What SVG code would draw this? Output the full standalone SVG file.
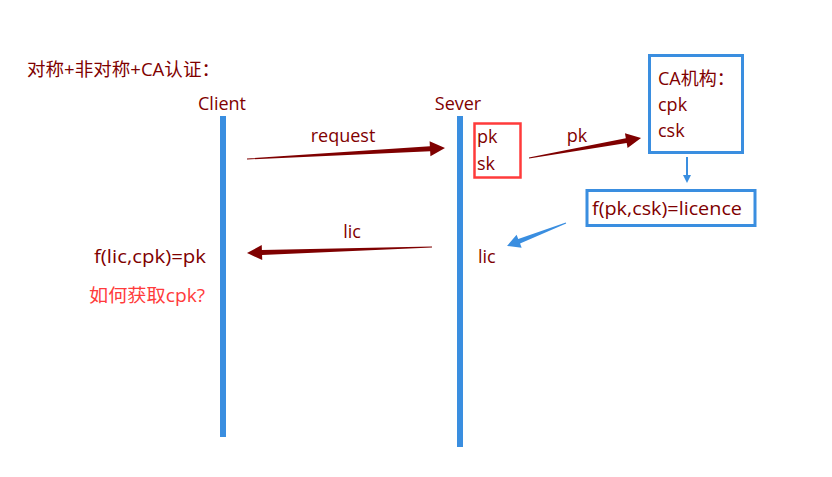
<svg xmlns="http://www.w3.org/2000/svg" width="832" height="477" viewBox="0 0 832 477">
<style>
text{font-family:"Open Sans","Noto Sans CJK SC",sans-serif;font-size:18px;fill:#7f0000}
.red{fill:#ff3b3b}
.life{fill:#3a8ee0}
.arr{fill:#7f0000}
.barr{fill:#3a8ee0}
.box{fill:none;stroke:#3a8ee0;stroke-width:3}
.rbox{fill:none;stroke:#ff3b3b;stroke-width:2.5}
</style>
<rect width="832" height="477" fill="#fff"/>
<text x="27" y="76" textLength="193" lengthAdjust="spacingAndGlyphs">对称+非对称+CA认证：</text>
<g id="client">
<text x="222" y="110" text-anchor="middle">Client</text>
<rect class="life" x="220" y="116" width="6" height="321"/>
</g>
<g id="sever">
<text x="458" y="110" text-anchor="middle">Sever</text>
<rect class="life" x="457" y="116" width="6" height="331"/>
</g>
<g id="keys">
<rect class="rbox" x="474.5" y="123.5" width="46" height="54"/>
<text x="477" y="143">pk</text>
<text x="477" y="170">sk</text>
</g>
<g id="ca">
<rect class="box" x="649.5" y="55.5" width="93" height="97"/>
<text x="658" y="85">CA机构：</text>
<text x="658" y="111">cpk</text>
<text x="658" y="137">csk</text>
</g>
<g id="licence">
<rect class="box" x="587" y="190.5" width="168" height="35"/>
<text x="592" y="215" textLength="150" lengthAdjust="spacingAndGlyphs">f(pk,csk)=licence</text>
</g>
<g id="sever-lic">
<text x="478" y="263">lic</text>
</g>
<g id="client-calc">
<text x="94" y="263" textLength="112" lengthAdjust="spacingAndGlyphs">f(lic,cpk)=pk</text>
<text class="red" x="89" y="302" textLength="116" lengthAdjust="spacingAndGlyphs">如何获取cpk?</text>
</g>
<g id="connectors">
<path class="arr" transform="translate(247,159) rotate(-3.18)" d="M0,-0.5 L183.3,-2.5 L183.3,-7.5 L198.3,0 L183.3,7.5 L183.3,2.5 L0,0.5 Z"/>
<text x="343" y="142" text-anchor="middle">request</text>
<path class="arr" transform="translate(529,158) rotate(-10.12)" d="M0,-0.5 L98.8,-2.5 L98.8,-7.5 L113.8,0 L98.8,7.5 L98.8,2.5 L0,0.5 Z"/>
<text x="577" y="142" text-anchor="middle">pk</text>
<path class="barr" transform="translate(687,157)" d="M-1,0 L-1,18 L-4,18 L0,26 L4,18 L1,18 L1,0 Z"/>
<path class="barr" transform="translate(566,223) rotate(158.7)" d="M0,-0.5 L50.3,-2.5 L50.3,-7 L63.3,0 L50.3,7 L50.3,2.5 L0,0.5 Z"/>
<path class="arr" transform="translate(432,247) rotate(178.14)" d="M0,-0.5 L170.1,-2.5 L170.1,-7.5 L185.1,0 L170.1,7.5 L170.1,2.5 L0,0.5 Z"/>
<text x="352" y="238" text-anchor="middle">lic</text>
</g>
</svg>
